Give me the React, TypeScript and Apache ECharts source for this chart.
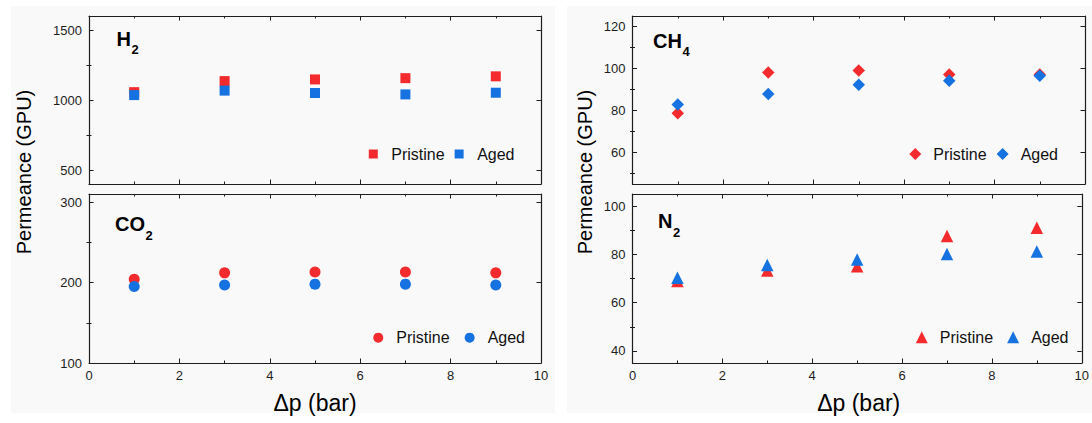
import React, { useEffect, useRef } from "react";
import * as echarts from "echarts";

const pressures = [1, 3, 5, 7, 9];
const h2Pristine = [1056, 1135, 1147, 1156, 1169];
const h2Aged = [1035, 1067, 1050, 1040, 1052];
const co2Pristine = [204, 212, 213, 213, 212];
const co2Aged = [195, 197, 198, 198, 197];
const ch4Pristine = [78.7, 98.1, 99.0, 97.2, 97.2];
const ch4Aged = [82.9, 87.8, 92.3, 94.2, 96.5];
const n2Pristine = [69.0, 73.3, 75.1, 87.6, 91.0];
const n2Aged = [70.3, 75.6, 77.9, 80.1, 81.2];

const h2Ticks = [500, 1000, 1500];
const h2Minor = [750, 1250];
const co2Ticks = [100, 200, 300];
const co2Minor = [150, 250];
const ch4Ticks = [60, 80, 100, 120];
const ch4Minor = [50, 70, 90, 110];
const n2Ticks = [40, 60, 80, 100];
const n2Minor = [50, 70, 90];

const RED = "#f42b2e";
const BLUE = "#1672e0";
const AXIS = "#1e1e1e";
const FONT = "'Liberation Sans', Arial, sans-serif";

type Panel = {
  grid: { left: number; top: number; width: number; height: number };
  yMin: number;
  yMax: number;
  major: number[];
  minor: number[];
  showX: boolean;
  pristine: number[];
  aged: number[];
  symbol: string;
  symbolSize: number;
  legendSize: number;
  icon: string;
  legendRight: number;
  legendGap: number;
  legendCenterY: number;
  gas: string;
  sub: string;
  gasX: number;
  gasY: number;
  subX: number;
  subY: number;
};

const panels: Panel[] = [
  {
    grid: { left: 89, top: 16, width: 452, height: 168 },
    yMin: 400, yMax: 1600, major: h2Ticks, minor: h2Minor, showX: false,
    pristine: h2Pristine, aged: h2Aged, symbol: "rect", symbolSize: 10, legendSize: 9,
    icon: "path://M0,0L1,0L1,1L0,1Z", legendRight: 1092 - 514.5, legendGap: 10, legendCenterY: 154,
    gas: "H", sub: "2", gasX: 116.5, gasY: 38.5, subX: 131.5, subY: 49.5,
  },
  {
    grid: { left: 89, top: 194, width: 452, height: 169 },
    yMin: 100, yMax: 310, major: co2Ticks, minor: co2Minor, showX: true,
    pristine: co2Pristine, aged: co2Aged, symbol: "circle", symbolSize: 11, legendSize: 10,
    icon: "circle", legendRight: 1092 - 525, legendGap: 15, legendCenterY: 337.7,
    gas: "CO", sub: "2", gasX: 115, gasY: 224, subX: 145.5, subY: 235,
  },
  {
    grid: { left: 632.5, top: 16, width: 452.5, height: 168 },
    yMin: 45, yMax: 125, major: ch4Ticks, minor: ch4Minor, showX: false,
    pristine: ch4Pristine, aged: ch4Aged, symbol: "diamond", symbolSize: 12.5, legendSize: 12,
    icon: "path://M1,0L2,1L1,2L0,1Z", legendRight: 1092 - 1058, legendGap: 10, legendCenterY: 154,
    gas: "CH", sub: "4", gasX: 653, gasY: 40.5, subX: 682.5, subY: 51.5,
  },
  {
    grid: { left: 632.5, top: 194, width: 452.5, height: 169 },
    yMin: 35, yMax: 105, major: n2Ticks, minor: n2Minor, showX: true,
    pristine: n2Pristine, aged: n2Aged, symbol: "triangle", symbolSize: 12.5, legendSize: 12,
    icon: "path://M1,0L2,2L0,2Z", legendRight: 1092 - 1068.5, legendGap: 14, legendCenterY: 337.3,
    gas: "N", sub: "2", gasX: 658, gasY: 220.8, subX: 673, subY: 232,
  },
];

function buildOption() {
  const grids: any[] = [];
  const xAxes: any[] = [];
  const yAxes: any[] = [];
  const series: any[] = [];
  const legends: any[] = [];
  const graphics: any[] = [];

  graphics.push({ type: "rect", z: -10, shape: { x: 11, y: 6, width: 544, height: 407 }, style: { fill: "#f9f9f9" } });
  graphics.push({ type: "rect", z: -10, shape: { x: 567, y: 6, width: 525, height: 407 }, style: { fill: "#f9f9f9" } });

  panels.forEach((p, g) => {
    grids.push({ ...p.grid, containLabel: false });
    const xBase = {
      gridIndex: g, type: "value", min: 0, max: 10, interval: 2,
      axisLine: { show: true, onZero: false, lineStyle: { color: AXIS, width: 1.2 } },
      axisTick: { show: true, inside: true, length: 4.5, lineStyle: { color: AXIS } },
      minorTick: { show: true, splitNumber: 2, length: 2.5, lineStyle: { color: AXIS } },
      splitLine: { show: false },
      minorSplitLine: { show: false },
    };
    xAxes.push({
      ...xBase, position: "bottom",
      axisLabel: { show: p.showX, color: AXIS, fontSize: 13, fontFamily: FONT, margin: 6, formatter: (v: number) => String(v) },
    });
    xAxes.push({ ...xBase, position: "top", axisLabel: { show: false } });

    const yCommon = { gridIndex: g, type: "value", min: p.yMin, max: p.yMax, splitLine: { show: false } };
    ["left", "right"].forEach((pos) => {
      yAxes.push({
        ...yCommon, position: pos,
        axisLine: { show: true, onZero: false, lineStyle: { color: AXIS, width: 1.2 } },
        axisTick: { show: true, inside: true, length: 4.5, customValues: p.major, lineStyle: { color: AXIS } },
        axisLabel: {
          show: pos === "left", customValues: p.major, color: AXIS, fontSize: 13, fontFamily: FONT, margin: 7,
          formatter: (v: number) => String(v),
        },
      });
      yAxes.push({
        ...yCommon, position: pos,
        axisLine: { show: false },
        axisTick: { show: true, inside: true, length: 2.5, customValues: p.minor, lineStyle: { color: AXIS } },
        axisLabel: { show: false },
      });
    });

    const mk = (name: string, vals: number[], color: string) => ({
      type: "scatter", name, xAxisIndex: 2 * g, yAxisIndex: 4 * g,
      symbol: p.symbol, symbolSize: p.symbolSize,
      itemStyle: { color, opacity: 1 },
      data: pressures.map((x, i) => [x, vals[i]]),
    });
    series.push(mk("Pristine", p.pristine, RED));
    series.push(mk("Aged", p.aged, BLUE));

    legends.push({
      right: p.legendRight, top: p.legendCenterY - 8, padding: 0, orient: "horizontal",
      itemWidth: 26, itemHeight: p.legendSize, itemGap: p.legendGap, selectedMode: false, symbolKeepAspect: true,
      textStyle: { fontSize: 16, fontFamily: FONT, color: "#111", lineHeight: 16 },
      data: [
        { name: "Pristine", icon: p.icon, itemStyle: { color: RED, borderWidth: 0 } },
        { name: "Aged", icon: p.icon, itemStyle: { color: BLUE, borderWidth: 0 } },
      ],
    });

    graphics.push({
      type: "text", z: 10, x: p.gasX, y: p.gasY,
      style: { text: p.gas, font: `bold 20px ${FONT}`, fill: "#000", align: "left", verticalAlign: "middle" },
    });
    graphics.push({
      type: "text", z: 10, x: p.subX, y: p.subY,
      style: { text: p.sub, font: `bold 13px ${FONT}`, fill: "#000", align: "left", verticalAlign: "middle" },
    });
  });

  [24, 585].forEach((x) => {
    graphics.push({
      type: "text", z: 10, x, y: 172, rotation: Math.PI / 2,
      style: { text: "Permeance (GPU)", font: `20px ${FONT}`, fill: "#000", align: "center", verticalAlign: "middle" },
    });
  });
  [315, 858.7].forEach((x) => {
    graphics.push({
      type: "text", z: 10, x, y: 403,
      style: { text: "\u0394p (bar)", font: `23px ${FONT}`, fill: "#000", align: "center", verticalAlign: "middle" },
    });
  });

  return {
    animation: false,
    backgroundColor: "#ffffff",
    grid: grids,
    xAxis: xAxes,
    yAxis: yAxes,
    series,
    legend: legends,
    graphic: graphics,
  };
}

export default function App() {
  const ref = useRef<HTMLDivElement>(null);
  useEffect(() => {
    if (!ref.current) return;
    const chart = echarts.init(ref.current, undefined, { renderer: "svg" });
    chart.setOption(buildOption() as any);
    return () => chart.dispose();
  }, []);
  return (
    <div
      ref={ref}
      style={{ position: "fixed", left: 0, top: 0, width: 1092, height: 423 }}
    />
  );
}
